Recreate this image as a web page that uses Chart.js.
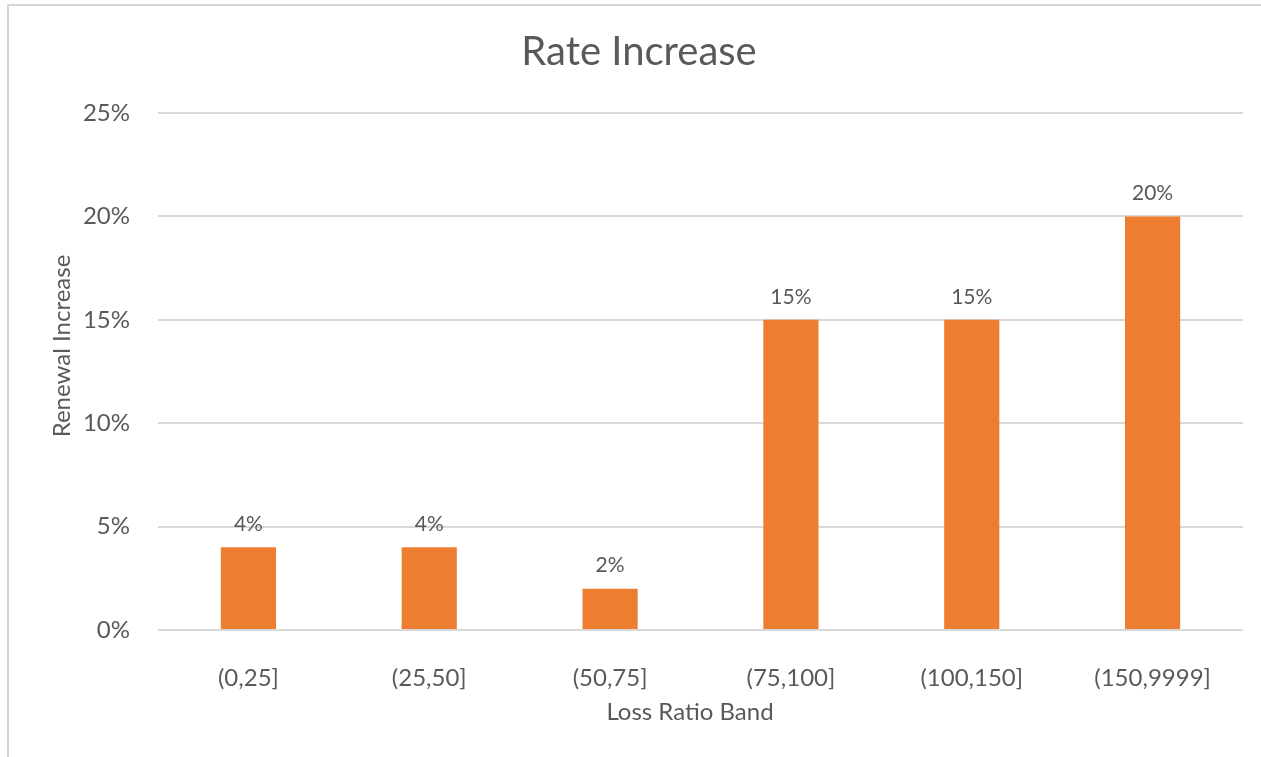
<!DOCTYPE html>
<html>
<head>
<meta charset="utf-8">
<script src="https://cdn.jsdelivr.net/npm/chart.js@4/dist/chart.umd.min.js"></script>
<style>
  html, body { margin: 0; padding: 0; background: #ffffff; }
  #wrap { position: relative; width: 1261px; height: 757px; overflow: hidden; }
  #frame {
    position: absolute; left: 7px; top: 4px; right: -10px; bottom: -10px;
    border-top: 2px solid #d6d6d6; border-left: 2px solid #d6d6d6;
    pointer-events: none;
  }
  canvas { display: block; }
</style>
</head>
<body>
<div id="wrap">
  <canvas id="chart" width="1261" height="757"></canvas>
  <div id="frame"></div>
</div>
<script>
const categories = ['(0,25]', '(25,50]', '(50,75]', '(75,100]', '(100,150]', '(150,9999]'];
const renewalIncrease = [4, 4, 2, 15, 15, 20];
const yTicks = [0, 5, 10, 15, 20, 25];

const chartTitle = 'Rate Increase';
const xTitle = 'Loss Ratio Band';
const yTitle = 'Renewal Increase';

const textGray = '#595959';
const barOrange = '#ED7D31';
const FONT = 'Lato';

// Title, axis titles and value labels drawn on the canvas
const annotations = {
  id: 'annotations',
  afterDatasetsDraw(chart) {
    const ctx = chart.ctx;
    const meta = chart.getDatasetMeta(0);
    ctx.save();
    ctx.fillStyle = textGray;
    ctx.textAlign = 'center';
    ctx.textBaseline = 'middle';
    ctx.font = '21px ' + FONT;
    meta.data.forEach((bar, i) => {
      ctx.fillText(renewalIncrease[i] + '%', bar.x, bar.y - 23);
    });
    ctx.restore();
  },
  afterDraw(chart) {
    const ctx = chart.ctx;
    ctx.save();
    ctx.fillStyle = textGray;
    ctx.textAlign = 'center';
    ctx.textBaseline = 'middle';
    ctx.font = '40px ' + FONT;
    ctx.fillText(chartTitle, 639, 52);
    ctx.font = '24px ' + FONT;
    ctx.fillText(xTitle, 690, 712);
    ctx.translate(62, 346);
    ctx.rotate(-Math.PI / 2);
    ctx.fillText(yTitle, 0, 0);
    ctx.restore();
  }
};

new Chart(document.getElementById('chart'), {
  type: 'bar',
  data: {
    labels: categories,
    datasets: [{
      data: renewalIncrease,
      backgroundColor: barOrange,
      borderWidth: 0,
      categoryPercentage: 1,
      barPercentage: 0.305
    }]
  },
  options: {
    responsive: false,
    animation: false,
    events: [],
    layout: { padding: { top: 113, right: 18, left: 0, bottom: 0 } },
    plugins: {
      legend: { display: false },
      title: { display: false },
      tooltip: { enabled: false }
    },
    scales: {
      x: {
        grid: { display: false },
        border: { display: false },
        ticks: { color: textGray, font: { family: FONT, size: 24 }, padding: 26, maxRotation: 0 },
        afterFit(scale) { scale.height = 127; }
      },
      y: {
        min: 0,
        max: 25,
        afterBuildTicks(scale) { scale.ticks = yTicks.map(v => ({ value: v })); },
        grid: { color: '#d9d9d9', lineWidth: 2, drawTicks: false },
        border: { display: false },
        ticks: {
          color: textGray,
          font: { family: FONT, size: 24 },
          padding: 28,
          callback: v => v + '%'
        },
        afterFit(scale) { scale.width = 158; }
      }
    }
  },
  plugins: [annotations]
});
</script>
</body>
</html>
